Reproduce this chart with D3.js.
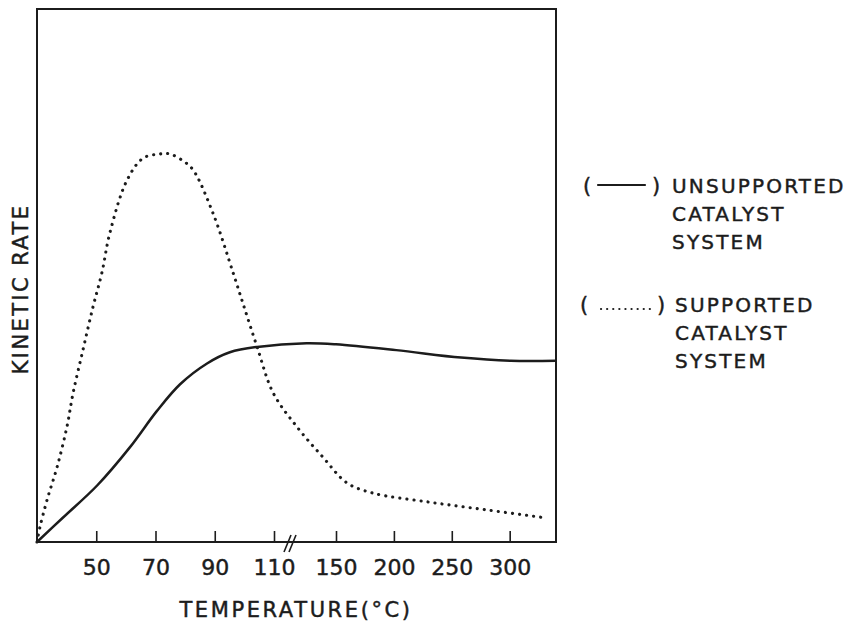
<!DOCTYPE html>
<html>
<head>
<meta charset="utf-8">
<script src="https://cdn.jsdelivr.net/npm/d3@7"></script>
<style>
  body { margin: 0; background: #fff; }
  svg { display: block; }
  .lbl { font-family: "DejaVu Sans", sans-serif; fill: #1c1c1c; stroke: #1c1c1c; stroke-width: 0.45px; }
</style>
</head>
<body>
<div id="chart"></div>
<script>
// values (rate is in arbitrary units, 0-100 = full frame height)
const tempUnsupported = [30, 38.8, 50.3, 61.4, 70.5, 78.3, 87.4, 95.1, 104.3, 131, 150, 202, 258, 301, 340];
const rateUnsupported = [0, 4.6, 10.6, 17.8, 24.6, 29.6, 33.5, 35.6, 36.6, 37.3, 37.1, 36.0, 34.6, 34.0, 34.0];

const tempSupported = [30, 31, 33.4, 36.8, 40.1, 42.2, 45.5, 48.9, 51.9, 54.6, 60.4, 65.8, 71.5, 74.9, 79.3, 82.7,
    89.4, 96.2, 99.5, 104.3, 109.7, 124.8, 141.6, 159.4, 181.5, 230, 281, 332];
const rateSupported = [0, 2.8, 7.9, 14.1, 21.6, 28, 36, 44.1, 50.5, 58, 67.9, 72, 72.8, 72.8, 71.5, 69.8,
    61.7, 50.5, 44.8, 36.6, 28, 21.6, 15.9, 11.1, 9.2, 7.5, 6, 4.5];

const tickTemps = [50, 70, 90, 110, 150, 200, 250, 300];
const legendLines = [
    ['UNSUPPORTED', 'CATALYST', 'SYSTEM'],
    ['SUPPORTED', 'CATALYST', 'SYSTEM']
];

const width = 853, height = 623;
const frame = { left: 37, top: 9, right: 556, bottom: 542 };

const svg = d3.select('#chart').append('svg')
    .attr('width', width)
    .attr('height', height);

// broken axis: 30-110 stretched, 150-340 compressed
const x = d3.scaleLinear()
    .domain([30, 110, 150, 340])
    .range([frame.left, frame.left + 237, frame.left + 299, frame.right]);

const y = d3.scaleLinear()
    .domain([0, 100])
    .range([frame.bottom, frame.top]);

const ink = '#1c1c1c';

// frame
svg.append('rect')
    .attr('x', frame.left).attr('y', frame.top)
    .attr('width', frame.right - frame.left)
    .attr('height', frame.bottom - frame.top)
    .attr('fill', 'none')
    .attr('stroke', ink)
    .attr('stroke-width', 2);

// x axis, ticks pointing inwards
const xAxis = d3.axisBottom(x)
    .tickValues(tickTemps)
    .tickSizeInner(-11)
    .tickSizeOuter(0)
    .tickPadding(17)
    .tickFormat(d3.format('d'));

const gx = svg.append('g')
    .attr('transform', `translate(0,${frame.bottom})`)
    .call(xAxis);
gx.select('.domain').remove();
gx.selectAll('.tick line').attr('stroke', ink).attr('stroke-width', 1.6);
gx.selectAll('.tick text')
    .attr('class', 'lbl')
    .style('font-size', '22px');

// break marker //
const bx = (x(110) + x(150)) / 2 - 17;
[0, 5].forEach(off => {
    svg.append('line')
        .attr('x1', bx + off - 4).attr('y1', frame.bottom + 10)
        .attr('x2', bx + off + 3).attr('y2', frame.bottom - 7)
        .attr('stroke', ink)
        .attr('stroke-width', 1.6);
});

// curves
const line = d3.line()
    .x(d => x(d[0]))
    .y(d => y(d[1]))
    .curve(d3.curveCatmullRom.alpha(0.5));

svg.append('path')
    .datum(d3.zip(tempUnsupported, rateUnsupported))
    .attr('fill', 'none')
    .attr('stroke', ink)
    .attr('stroke-width', 2.5)
    .attr('d', line);

svg.append('path')
    .datum(d3.zip(tempSupported, rateSupported))
    .attr('fill', 'none')
    .attr('stroke', ink)
    .attr('stroke-width', 3.1)
    .attr('stroke-linecap', 'round')
    .attr('stroke-dasharray', '0.1 7')
    .attr('d', line);

// axis titles
svg.append('text')
    .attr('class', 'lbl')
    .attr('x', 296).attr('y', 617)
    .attr('text-anchor', 'middle')
    .style('font-size', '21px')
    .style('letter-spacing', '2.6px')
    .text('TEMPERATURE(°C)');

svg.append('text')
    .attr('class', 'lbl')
    .attr('transform', 'translate(28,289) rotate(-90)')
    .attr('text-anchor', 'middle')
    .style('font-size', '21px')
    .style('letter-spacing', '2.4px')
    .text('KINETIC RATE');

// legend
const legendTop = [193, 312];
legendLines.forEach((rows, i) => {
    const g = svg.append('g').attr('transform', `translate(0,${legendTop[i]})`);
    g.append('text').attr('class', 'lbl').attr('x', i ? 580 : 583).attr('y', 0)
        .style('font-size', '21px').text('(');
    g.append('text').attr('class', 'lbl').attr('x', i ? 657 : 652).attr('y', 0)
        .style('font-size', '21px').text(')');
    g.append('line')
        .attr('x1', i ? 601 : 598).attr('x2', i ? 651 : 645)
        .attr('y1', i ? -3 : -8).attr('y2', i ? -3 : -8)
        .attr('stroke', ink)
        .attr('stroke-width', i ? 2.2 : 2.2)
        .attr('stroke-linecap', 'round')
        .attr('stroke-dasharray', i ? '0.1 6' : null);
    rows.forEach((t, j) => {
        g.append('text')
            .attr('class', 'lbl')
            .attr('x', i ? 675 : 672)
            .attr('y', j * 28)
            .style('font-size', '20px')
            .style('letter-spacing', '2.2px')
            .text(t);
    });
});
</script>
</body>
</html>
